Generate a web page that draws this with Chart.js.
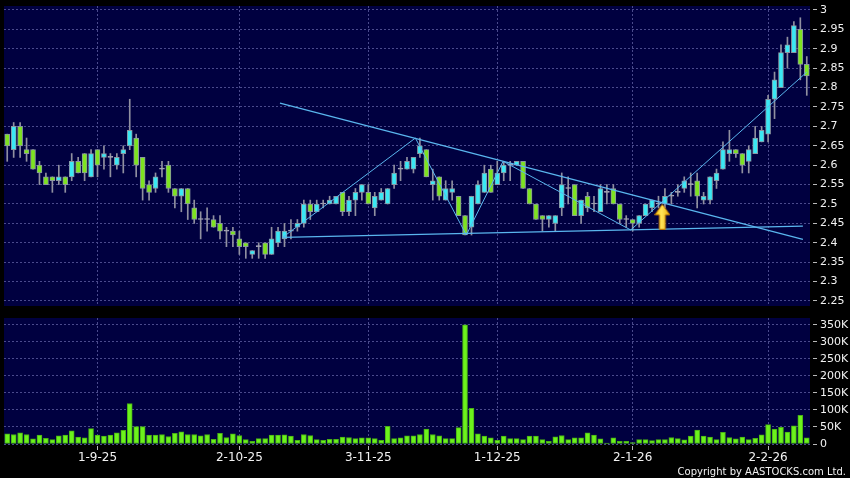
<!DOCTYPE html>
<html lang="en">
<head>
<meta charset="UTF-8">
<title>Daily chart</title>
<script src="https://cdn.jsdelivr.net/npm/chart.js"></script>
<style>
  body { margin: 0; background: #000; }
  #wrap { position: relative; width: 850px; height: 478px; }
  #priceChart { position: absolute; left: 0; top: 0; }
  #volChart { position: absolute; left: 0; top: 310px; }
</style>
</head>
<body>
<div id="wrap">
  <canvas id="priceChart" width="850" height="310"></canvas>
  <canvas id="volChart" width="850" height="168"></canvas>
</div>
<script>
// daily candles, oldest first
const openP = [2.68,2.64,2.70,2.64,2.64,2.60,2.57,2.57,2.56,2.57,2.57,2.61,2.63,2.57,2.64,2.62,2.62,2.60,2.63,2.65,
  2.67,2.62,2.55,2.54,2.59,2.60,2.54,2.52,2.54,2.49,2.46,2.46,2.46,2.45,2.43,2.43,2.41,2.40,2.37,2.39,
  2.40,2.37,2.40,2.41,2.43,2.44,2.45,2.50,2.48,2.50,2.50,2.50,2.53,2.48,2.51,2.53,2.53,2.49,2.51,2.50,
  2.55,2.59,2.59,2.59,2.63,2.64,2.55,2.57,2.51,2.53,2.52,2.47,2.44,2.50,2.53,2.59,2.55,2.58,2.60,2.60,
  2.61,2.54,2.50,2.47,2.46,2.45,2.49,2.54,2.55,2.47,2.52,2.50,2.48,2.53,2.54,2.50,2.46,2.46,2.45,2.47,
  2.49,2.50,2.50,2.52,2.53,2.54,2.55,2.56,2.51,2.51,2.56,2.59,2.63,2.64,2.63,2.61,2.63,2.66,2.68,2.77,
  2.80,2.89,2.89,2.95,2.86];
const highP = [2.68,2.71,2.71,2.67,2.64,2.61,2.58,2.57,2.60,2.57,2.63,2.62,2.63,2.64,2.64,2.65,2.63,2.63,2.65,2.77,
  2.68,2.62,2.56,2.58,2.61,2.61,2.54,2.54,2.54,2.51,2.48,2.49,2.47,2.47,2.44,2.44,2.43,2.40,2.38,2.40,
  2.40,2.44,2.44,2.45,2.46,2.46,2.51,2.51,2.51,2.51,2.52,2.52,2.53,2.52,2.54,2.55,2.55,2.53,2.54,2.54,
  2.60,2.61,2.62,2.62,2.67,2.64,2.59,2.57,2.56,2.56,2.52,2.47,2.52,2.56,2.60,2.60,2.61,2.61,2.61,2.61,
  2.61,2.54,2.50,2.47,2.47,2.47,2.58,2.57,2.55,2.51,2.53,2.52,2.55,2.55,2.55,2.50,2.47,2.46,2.47,2.50,
  2.51,2.52,2.54,2.53,2.55,2.57,2.58,2.58,2.53,2.57,2.59,2.66,2.69,2.64,2.63,2.65,2.70,2.70,2.78,2.84,
  2.91,2.93,2.97,2.98,2.88];
const lowP = [2.61,2.62,2.62,2.61,2.59,2.55,2.55,2.53,2.55,2.53,2.56,2.58,2.56,2.57,2.57,2.59,2.57,2.59,2.58,2.64,
  2.57,2.51,2.51,2.53,2.57,2.53,2.49,2.48,2.46,2.45,2.41,2.43,2.44,2.41,2.39,2.39,2.37,2.36,2.36,2.36,
  2.36,2.37,2.39,2.39,2.41,2.43,2.44,2.46,2.48,2.49,2.50,2.50,2.47,2.47,2.47,2.51,2.50,2.47,2.51,2.50,
  2.54,2.56,2.59,2.58,2.62,2.57,2.51,2.51,2.51,2.51,2.47,2.42,2.42,2.50,2.53,2.53,2.55,2.56,2.56,2.60,
  2.54,2.50,2.46,2.43,2.44,2.43,2.47,2.50,2.47,2.45,2.48,2.48,2.48,2.50,2.50,2.45,2.44,2.43,2.44,2.47,
  2.48,2.49,2.49,2.50,2.52,2.53,2.52,2.49,2.50,2.50,2.54,2.59,2.61,2.62,2.58,2.58,2.63,2.66,2.66,2.72,
  2.80,2.85,2.89,2.82,2.78];
const closeP = [2.65,2.70,2.65,2.63,2.59,2.58,2.55,2.56,2.57,2.55,2.61,2.58,2.58,2.63,2.60,2.63,2.62,2.62,2.64,2.69,
  2.60,2.54,2.53,2.57,2.59,2.54,2.52,2.54,2.50,2.46,2.46,2.46,2.44,2.43,2.43,2.42,2.39,2.39,2.38,2.39,
  2.37,2.41,2.43,2.43,2.43,2.45,2.50,2.48,2.50,2.50,2.51,2.52,2.48,2.51,2.53,2.55,2.50,2.52,2.53,2.54,
  2.58,2.59,2.61,2.62,2.65,2.57,2.56,2.52,2.54,2.54,2.47,2.42,2.52,2.55,2.58,2.53,2.58,2.60,2.60,2.61,
  2.54,2.50,2.46,2.46,2.47,2.47,2.55,2.54,2.47,2.51,2.49,2.50,2.54,2.53,2.50,2.46,2.46,2.45,2.47,2.50,
  2.51,2.50,2.52,2.52,2.53,2.56,2.55,2.52,2.52,2.57,2.58,2.64,2.64,2.63,2.60,2.64,2.67,2.69,2.77,2.82,
  2.89,2.91,2.96,2.86,2.83];
// volume in thousands of shares
const volume = [30,28,33,28,15,26,17,13,24,26,39,20,18,45,26,23,26,33,40,119,
  51,51,26,26,28,22,31,36,28,28,24,28,14,31,19,30,25,13,8,16,
  16,26,26,27,23,11,28,25,13,11,14,14,20,19,16,18,18,16,11,52,
  16,18,24,24,28,44,28,24,16,16,48,350,105,30,23,18,11,23,16,16,
  13,23,23,13,8,21,25,13,18,18,33,26,15,3,18,8,8,4,13,13,
  10,13,13,19,16,12,23,41,23,20,13,34,19,15,20,13,17,27,57,44,
  49,35,53,84,18];

const tickIdx = [14, 36, 56, 76, 97, 118];
const tickLabels = ['1-9-25', '2-10-25', '3-11-25', '1-12-25', '2-1-26', '2-2-26'];
const priceTicks = [2.25, 2.3, 2.35, 2.4, 2.45, 2.5, 2.55, 2.6, 2.65, 2.7, 2.75, 2.8, 2.85, 2.9, 2.95, 3];
const volTicks = [0, 50, 100, 150, 200, 250, 300, 350];

// drawn trend lines, [bar index, price]
const upperLine = [[42.3, 2.76], [123.4, 2.409]];
const lowerLine = [[42.7, 2.414], [123.4, 2.443]];
const zigzag = [[42.8, 2.415], [63.3, 2.67], [71.2, 2.42], [76.9, 2.61], [96.7, 2.433], [124, 2.84]];
const arrowAt = [101.6, 2.467];

const NAVY = '#000040';
const GRID = '#4a4a8c';
const TEXT = '#f2f2f2';
const TICK = '#b8b8b8';
const UP = '#3ae8f4';
const DOWN = '#7ee320';
const FLAT = '#a8a8b8';
const WICK = '#9090a0';
const EDGE = '#8a96a2';
const LINE = '#5ab6ee';

Chart.defaults.font.family = '"DejaVu Sans", Verdana, sans-serif';
Chart.defaults.color = TEXT;

const idx = closeP.map((_, i) => i);
const bodyColor = i => closeP[i] > openP[i] ? UP : (closeP[i] < openP[i] ? DOWN : FLAT);

const panelBg = {
  id: 'panelBg',
  beforeDraw(chart) {
    const { ctx, chartArea: a } = chart;
    ctx.save();
    ctx.fillStyle = NAVY;
    ctx.fillRect(a.left, a.top, a.right - a.left, a.bottom - a.top);
    ctx.restore();
  }
};

const copyright = {
  id: 'copyright',
  afterDraw(chart) {
    const ctx = chart.ctx;
    ctx.save();
    ctx.font = '10px "DejaVu Sans"';
    ctx.fillStyle = TEXT;
    ctx.textAlign = 'right';
    ctx.textBaseline = 'alphabetic';
    ctx.fillText('Copyright by AASTOCKS.com Ltd.', 846, 165);
    ctx.restore();
  }
};

function makeArrow() {
  const c = document.createElement('canvas');
  c.width = 16;
  c.height = 26;
  const g = c.getContext('2d');
  const grad = g.createLinearGradient(0, 0, 16, 0);
  grad.addColorStop(0, '#f8c000');
  grad.addColorStop(0.45, '#ffe45a');
  grad.addColorStop(1, '#eaa800');
  g.beginPath();
  g.moveTo(8, 0.5);
  g.lineTo(15.5, 11);
  g.lineTo(11, 11);
  g.lineTo(11, 25.5);
  g.lineTo(5, 25.5);
  g.lineTo(5, 11);
  g.lineTo(0.5, 11);
  g.closePath();
  g.fillStyle = grad;
  g.fill();
  g.strokeStyle = '#c07800';
  g.lineWidth = 1;
  g.stroke();
  return c;
}

// no label overhang padding, the panels keep fixed edges
function noPad(s) {
  s.paddingLeft = 0;
  s.paddingRight = 0;
  s.paddingTop = 0;
  s.paddingBottom = 0;
}

const xAxis = (withLabels) => ({
  type: 'linear',
  min: -0.5,
  max: 124.5,
  offset: false,
  afterBuildTicks: s => { s.ticks = tickIdx.map(v => ({ value: v })); },
  afterFit: s => { s.height = withLabels ? 34 : 0; noPad(s); },
  ticks: {
    display: withLabels,
    autoSkip: false,
    maxRotation: 0,
    padding: 1,
    font: { size: 12 },
    color: TEXT,
    callback: (v, i) => tickLabels[i]
  },
  grid: {
    color: GRID,
    offset: false,
    drawTicks: withLabels,
    tickLength: 6,
    tickColor: TICK,
    tickBorderDash: [0, 2, 4, 20]
  },
  border: { display: false, dash: [2, 2] }
});

const yAxis = (min, max, ticks, fmt) => ({
  position: 'right',
  min: min,
  max: max,
  afterBuildTicks: s => { s.ticks = ticks.map(v => ({ value: v })); },
  afterFit: s => { s.width = 40; noPad(s); },
  ticks: { autoSkip: false, padding: 3, font: { size: 11 }, color: TEXT, callback: fmt },
  grid: { color: GRID, tickLength: 7, tickColor: TICK, tickBorderDash: [0, 3, 4, 20] },
  border: { display: false, dash: [2, 2] }
});

const lineSet = (pts, w) => ({
  type: 'line',
  data: pts.map(p => ({ x: p[0], y: p[1] })),
  borderColor: LINE,
  borderWidth: w,
  pointRadius: 0,
  tension: 0,
  fill: false,
  order: 1
});

new Chart(document.getElementById('priceChart'), {
  type: 'bar',
  data: {
    datasets: [
      {
        label: 'wick',
        data: idx.map(i => ({ x: i, y: [lowP[i], highP[i]] })),
        backgroundColor: WICK,
        barThickness: 1,
        grouped: false,
        order: 4
      },
      {
        label: 'body',
        data: idx.map(i => ({ x: i, y: [openP[i], closeP[i]] })),
        backgroundColor: c => bodyColor(c.dataIndex),
        borderColor: c => closeP[c.dataIndex] === openP[c.dataIndex] ? FLAT : EDGE,
        borderWidth: 1,
        borderSkipped: false,
        barThickness: 5,
        minBarLength: 1,
        grouped: false,
        order: 3
      },
      lineSet(upperLine, 1.2),
      lineSet(lowerLine, 1.4),
      lineSet(zigzag, 1),
      {
        type: 'scatter',
        data: [{ x: arrowAt[0], y: arrowAt[1] }],
        pointStyle: makeArrow(),
        pointRadius: 10,
        order: 0
      }
    ]
  },
  options: {
    responsive: false,
    animation: false,
    events: [],
    layout: { autoPadding: false, padding: { left: 4, right: 0, top: 6, bottom: 4 } },
    plugins: { legend: { display: false }, tooltip: { enabled: false } },
    scales: {
      x: xAxis(false),
      y: yAxis(2.2371, 3.0103, priceTicks, v => String(v))
    }
  },
  plugins: [panelBg]
});

new Chart(document.getElementById('volChart'), {
  type: 'bar',
  data: {
    datasets: [{
      label: 'volume',
      data: idx.map(i => ({ x: i, y: volume[i] })),
      backgroundColor: '#6cf21c',
      borderColor: '#48b014',
      borderWidth: 1,
      borderSkipped: false,
      barThickness: 5,
      grouped: false
    }]
  },
  options: {
    responsive: false,
    animation: false,
    events: [],
    layout: { autoPadding: false, padding: { left: 4, right: 0, top: 8, bottom: 0 } },
    plugins: { legend: { display: false }, tooltip: { enabled: false } },
    scales: {
      x: xAxis(true),
      y: yAxis(0, 370, volTicks, v => v === 0 ? '0' : v + 'K')
    }
  },
  plugins: [panelBg, copyright]
});
</script>
</body>
</html>
